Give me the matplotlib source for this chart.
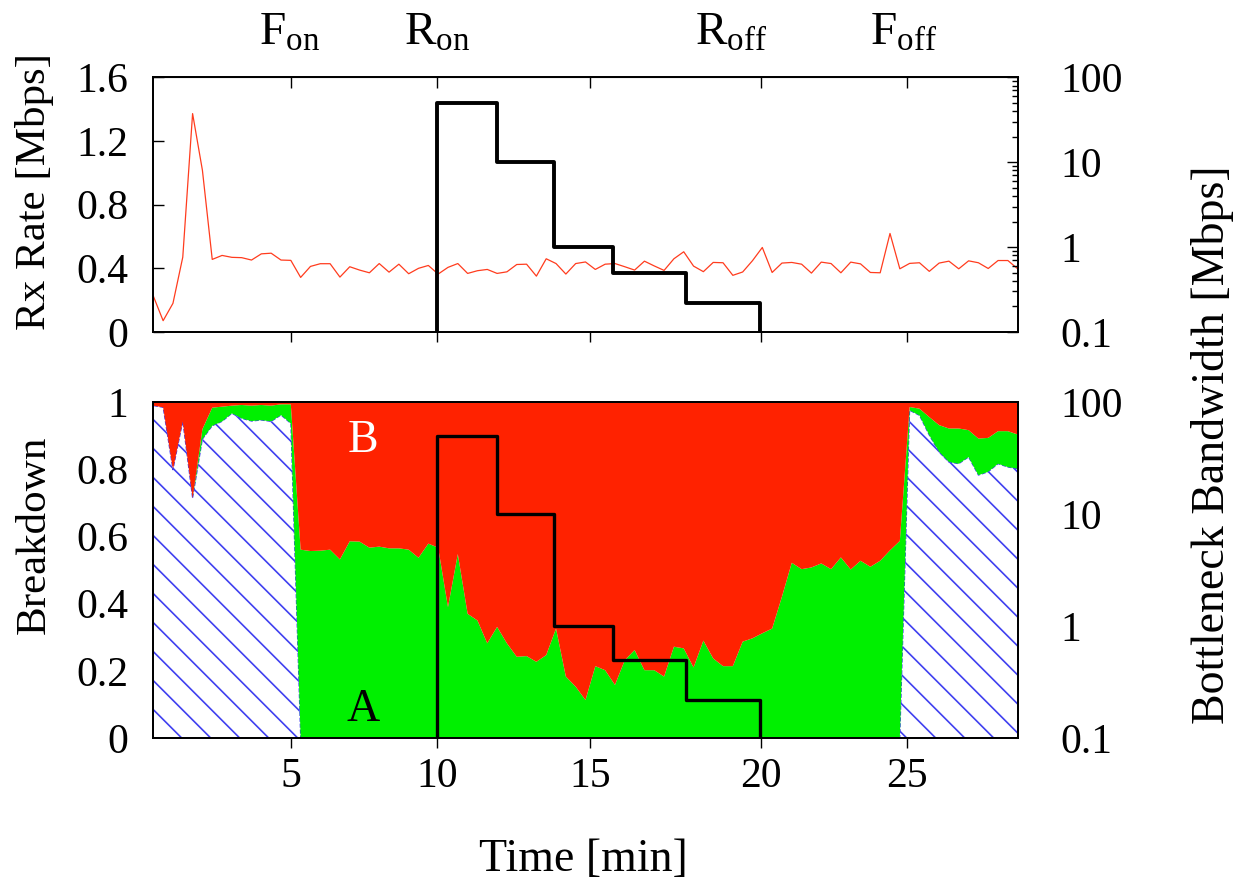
import matplotlib
matplotlib.use('Agg')
import matplotlib.pyplot as plt
import numpy as np

plt.rcParams['font.family'] = ['Liberation Serif', 'DejaVu Serif']
plt.rcParams['mathtext.fontset'] = 'custom'
plt.rcParams['mathtext.rm'] = 'Liberation Serif'
plt.rcParams['mathtext.it'] = 'Liberation Serif:italic'

# one sample per measurement interval (x axis is sample index)
rx_rate = [0.226, 0.071, 0.18, 0.47, 1.372, 1.016, 0.456, 0.481, 0.469, 0.467,
           0.452, 0.491, 0.495, 0.452, 0.45, 0.343, 0.412, 0.429, 0.429, 0.345,
           0.41, 0.389, 0.372, 0.43, 0.376, 0.426, 0.366, 0.4, 0.418, 0.364,
           0.406, 0.43, 0.368, 0.385, 0.393, 0.368, 0.378, 0.424, 0.426, 0.351,
           0.46, 0.43, 0.364, 0.43, 0.44, 0.393, 0.426, 0.43, 0.41, 0.389,
           0.445, 0.415, 0.387, 0.46, 0.504, 0.414, 0.379, 0.437, 0.435, 0.356,
           0.377, 0.448, 0.531, 0.374, 0.433, 0.437, 0.426, 0.37, 0.439, 0.43,
           0.372, 0.439, 0.428, 0.374, 0.372, 0.619, 0.397, 0.431, 0.435, 0.381,
           0.433, 0.445, 0.397, 0.447, 0.435, 0.399, 0.449, 0.449, 0.397]

# cumulative breakdown: hatched share, then hatched + A (B fills up to 1)
hatch_top = [0.99, 0.985, 0.799, 0.943, 0.714, 0.89, 0.93, 0.943, 0.967, 0.952,
             0.944, 0.947, 0.943, 0.962, 0.937] + [0.0] * 62 + \
            [0.976, 0.961, 0.902, 0.852, 0.822, 0.817, 0.837, 0.783, 0.793,
             0.817, 0.807, 0.802]
a_top = [0.99, 0.985, 0.799, 0.943, 0.714, 0.92, 0.984, 0.987, 0.99, 0.992,
         0.99, 0.992, 0.99, 0.994, 0.994, 0.561, 0.557, 0.558, 0.561, 0.532,
         0.586, 0.585, 0.567, 0.570, 0.565, 0.565, 0.561, 0.537, 0.579, 0.567,
         0.39, 0.548, 0.37, 0.35, 0.282, 0.331, 0.282, 0.242, 0.244, 0.227,
         0.247, 0.326, 0.183, 0.153, 0.113, 0.214, 0.202, 0.158, 0.232, 0.262,
         0.202, 0.202, 0.183, 0.272, 0.267, 0.210, 0.29, 0.237, 0.214, 0.214,
         0.287, 0.297, 0.312, 0.326, 0.421, 0.522, 0.503, 0.508, 0.520, 0.503,
         0.538, 0.502, 0.528, 0.510, 0.528, 0.559, 0.587, 0.986, 0.981, 0.956,
         0.932, 0.922, 0.922, 0.917, 0.892, 0.894, 0.914, 0.914, 0.904]

sample = np.arange(len(rx_rate))

# bottleneck bandwidth schedule (Mbps)
bw_edges = [28.9, 34.97, 40.8, 46.8, 54.25, 61.8]
bw_values = [50, 10, 1, 0.5, 0.22]
bw_floor = 0.1

time_ticks = [14.0, 28.9, 44.5, 61.9, 76.7]
time_labels = ['5', '10', '15', '20', '25']

events = ['F$_{\\rm on}$', 'R$_{\\rm on}$', 'R$_{\\rm off}$', 'F$_{\\rm off}$']
event_pos = [13.9, 28.9, 58.8, 76.4]

x_max = 88
tick_fs = 30
label_fs = 31

step_x = np.repeat(bw_edges, 2)
step_y = np.concatenate([[bw_floor], np.repeat(bw_values, 2), [bw_floor]])

W, H = 1235, 889
fig = plt.figure(figsize=(W / 100, H / 100), dpi=100)
top_rect = [153.3 / W, 1 - 332 / H, 864.4 / W, 254.7 / H]
bot_rect = [153.3 / W, 1 - 738 / H, 864.4 / W, 335.7 / H]

# ---- top panel: rx rate + bandwidth ----
ax1 = fig.add_axes(top_rect)
ax1.plot(sample, rx_rate, color='#ff3c1e', lw=0.9)
ax1.set_xlim(0, x_max)
ax1.set_ylim(0, 1.6)
ax1.set_yticks([0, 0.4, 0.8, 1.2, 1.6])
ax1.set_yticklabels(['0', '0.4', '0.8', '1.2', '1.6'])
ax1.set_xticks(time_ticks)
ax1.set_xticklabels([])
ax1.tick_params(axis='y', direction='in', length=8, width=1, pad=18,
                labelsize=tick_fs)
ax1.tick_params(axis='x', direction='out', length=7, width=1)
sec = ax1.secondary_xaxis('top')
sec.set_xticks(time_ticks)
sec.set_xticklabels([])
sec.tick_params(direction='in', length=8, width=1)

ax2 = ax1.twinx()
ax2.set_yscale('log')
ax2.set_ylim(0.1, 100)
ax2.plot(step_x, step_y, color='black', lw=2.8)
ax2.set_yticks([0.1, 1, 10, 100])
ax2.set_yticklabels(['0.1', '1', '10', '100'])
ax2.tick_params(axis='y', which='major', direction='in', length=8, width=1,
                pad=31, labelsize=tick_fs)
ax2.tick_params(axis='y', which='minor', direction='in', length=4.5, width=1)

for name, pos in zip(events, event_pos):
    ax1.text(pos, (332 - 45) / 254.7, name, transform=ax1.get_xaxis_transform(),
             ha='center', va='baseline', fontsize=34)

# ---- bottom panel: breakdown ----
ax3 = fig.add_axes(bot_rect)
hatch_poly = ax3.fill_between(sample, 0, hatch_top, facecolor='white',
                              edgecolor='#4040f0', linestyle='--', lw=0.8)
ax3.fill_between(sample, hatch_top, a_top, facecolor='#00f000', lw=0)
ax3.fill_between(sample, a_top, 1, facecolor='#ff2200', lw=0)

# diagonal hatch lines at 45 degrees on screen, clipped to hatched area
px_per_x = bot_rect[2] * W / x_max
px_per_y = bot_rect[3] * H
slope = px_per_x / px_per_y
gap = 29 / px_per_y
clip = hatch_poly.get_paths()[0]
for b in 0.862 + gap * np.arange(-11, 35):
    ln, = ax3.plot([0, x_max], [b, b - slope * x_max], color='#4040f0', lw=1.2)
    ln.set_clip_path(clip, ax3.transData)

ax3.text(21.35, 0.05, 'A', fontsize=33, ha='center', va='baseline', color='black')
ax3.text(21.3, 0.851, 'B', fontsize=33, ha='center', va='baseline', color='white')

ax3.set_xlim(0, x_max)
ax3.set_ylim(0, 1)
ax3.set_yticks([0, 0.2, 0.4, 0.6, 0.8, 1])
ax3.set_yticklabels(['0', '0.2', '0.4', '0.6', '0.8', '1'])
ax3.set_xticks(time_ticks)
ax3.set_xticklabels(time_labels)
ax3.tick_params(axis='y', length=0, pad=18, labelsize=tick_fs)
ax3.tick_params(axis='x', direction='out', length=7, width=1, pad=7,
                labelsize=tick_fs)

ax4 = ax3.twinx()
ax4.set_yscale('log')
ax4.set_ylim(0.1, 100)
ax4.plot(step_x, step_y, color='black', lw=2.4)
ax4.set_yticks([0.1, 1, 10, 100])
ax4.set_yticklabels(['0.1', '1', '10', '100'])
ax4.tick_params(axis='y', which='both', length=0, pad=31, labelsize=tick_fs)

for ax in (ax1, ax2, ax3, ax4):
    for sp in ax.spines.values():
        sp.set_linewidth(1.3)

fig.text(35 / W, 1 - 192 / H, 'Rx Rate [Mbps]', rotation=90, ha='center',
         va='center', fontsize=label_fs)
fig.text(35 / W, 1 - 535 / H, 'Breakdown', rotation=90, ha='center',
         va='center', fontsize=label_fs)
fig.text(1212 / W, 1 - 445 / H, 'Bottleneck Bandwidth [Mbps]', rotation=90,
         ha='center', va='center', fontsize=33)
fig.text(583 / W, 1 - 860 / H, 'Time [min]', ha='center', va='center',
         fontsize=33)

fig.savefig('out.png', dpi=100)
